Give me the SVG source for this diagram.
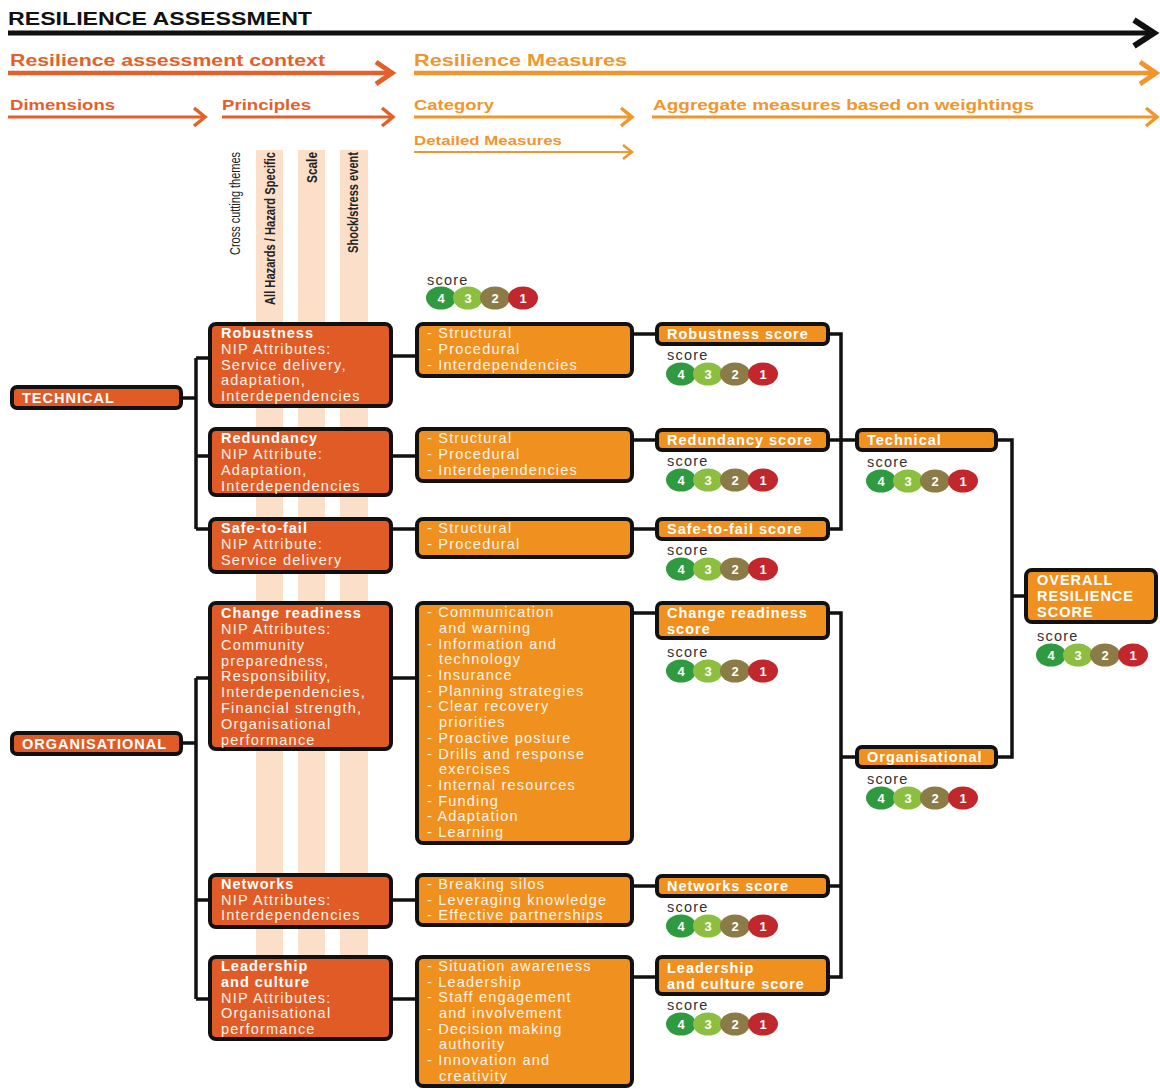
<svg xmlns="http://www.w3.org/2000/svg" xmlns:xlink="http://www.w3.org/1999/xlink" width="1160" height="1089" viewBox="0 0 1160 1089">
<style>
.hd{font-family:"Liberation Sans",Arial,sans-serif;font-weight:bold}
.red{fill:#E4602A}
.org{fill:#F0962C}
.pr{fill:#E15B26;stroke:#111;stroke-width:4}
.ms{fill:#F0901F;stroke:#111;stroke-width:4}
.t{font-family:"Liberation Sans",Arial,sans-serif;font-size:14.5px;letter-spacing:1.2px;fill:#FFF4EA}
.b{font-weight:bold;letter-spacing:1px;fill:#fff}
.conn{stroke:#111;stroke-width:3.5;fill:none}
.sc{font-family:"Liberation Sans",Arial,sans-serif;font-size:14.5px;letter-spacing:1.2px;fill:#333}
.bn{font-family:"Liberation Sans",Arial,sans-serif;font-size:13px;font-weight:bold;fill:#fff;text-anchor:middle}
.vt{font-family:"Liberation Sans",Arial,sans-serif;font-size:14px;fill:#222}
.stripe{fill:#FCDFC8}
</style>
<defs>
<g id="badge">
<ellipse cx="15" cy="0" rx="15" ry="11.5" fill="#2F9A3F"/>
<ellipse cx="42" cy="0" rx="15" ry="11.5" fill="#8CBF40"/>
<ellipse cx="69" cy="0" rx="15" ry="11.5" fill="#8B7B47"/>
<ellipse cx="97" cy="0" rx="15" ry="11.5" fill="#C1272D"/>
<text class="bn" x="15" y="4.5">4</text>
<text class="bn" x="42" y="4.5">3</text>
<text class="bn" x="69" y="4.5">2</text>
<text class="bn" x="97" y="4.5">1</text>
</g>
</defs>
<rect width="1160" height="1089" fill="#fff"/>

<g id="header">
<text class="hd" x="8" y="25" font-size="19" fill="#111" textLength="304" lengthAdjust="spacingAndGlyphs">RESILIENCE ASSESSMENT</text>
<line x1="8" y1="33" x2="1152" y2="33" stroke="#111" stroke-width="5"/>
<polyline points="1134,20 1154,33 1134,46" fill="none" stroke="#111" stroke-width="6"/>
<text class="hd red" x="10" y="66" font-size="16.5" textLength="315" lengthAdjust="spacingAndGlyphs">Resilience assessment context</text>
<line x1="8" y1="73" x2="390" y2="73" stroke="#E4602A" stroke-width="4.5"/>
<polyline points="376,62 392,73 376,84" fill="none" stroke="#E4602A" stroke-width="5"/>
<text class="hd org" x="414" y="66" font-size="16.5" textLength="213" lengthAdjust="spacingAndGlyphs">Resilience Measures</text>
<line x1="414" y1="73" x2="1154" y2="73" stroke="#F0962C" stroke-width="4.5"/>
<polyline points="1140,62 1156,73 1140,84" fill="none" stroke="#F0962C" stroke-width="5"/>
<text class="hd red" x="10" y="110" font-size="15.5" textLength="105" lengthAdjust="spacingAndGlyphs">Dimensions</text>
<line x1="8" y1="117" x2="203" y2="117" stroke="#E4602A" stroke-width="3"/>
<polyline points="194,108 205,117 194,126" fill="none" stroke="#E4602A" stroke-width="3.5"/>
<text class="hd red" x="222" y="110" font-size="15.5" textLength="89" lengthAdjust="spacingAndGlyphs">Principles</text>
<line x1="222" y1="117" x2="391" y2="117" stroke="#E4602A" stroke-width="3"/>
<polyline points="382,108 393,117 382,126" fill="none" stroke="#E4602A" stroke-width="3.5"/>
<text class="hd org" x="414" y="110" font-size="15.5" textLength="80" lengthAdjust="spacingAndGlyphs">Category</text>
<line x1="414" y1="117" x2="630" y2="117" stroke="#F0962C" stroke-width="3"/>
<polyline points="621,108 632,117 621,126" fill="none" stroke="#F0962C" stroke-width="3.5"/>
<text class="hd org" x="653" y="110" font-size="15.5" textLength="381" lengthAdjust="spacingAndGlyphs">Aggregate measures based on weightings</text>
<line x1="652" y1="117" x2="1155" y2="117" stroke="#F0962C" stroke-width="3"/>
<polyline points="1146,108 1157,117 1146,126" fill="none" stroke="#F0962C" stroke-width="3.5"/>
<text class="hd org" x="414" y="145" font-size="13.5" textLength="148" lengthAdjust="spacingAndGlyphs">Detailed Measures</text>
<line x1="414" y1="152" x2="631" y2="152" stroke="#F0962C" stroke-width="2"/>
<polyline points="623,145 632,152 623,159" fill="none" stroke="#F0962C" stroke-width="2.5"/>
</g>

<g id="cross-cutting-themes">
<rect class="stripe" x="256" y="150" width="27" height="805"/>
<rect class="stripe" x="298" y="150" width="27" height="805"/>
<rect class="stripe" x="340" y="150" width="28" height="805"/>
<text class="vt" transform="translate(240,255) rotate(-90)" textLength="103" lengthAdjust="spacingAndGlyphs">Cross cutting themes</text>
<text class="vt" font-weight="bold" font-size="13" transform="translate(275,305) rotate(-90)" textLength="153" lengthAdjust="spacingAndGlyphs">All Hazards / Hazard Specific</text>
<text class="vt" font-weight="bold" font-size="13" transform="translate(317,183) rotate(-90)" textLength="31" lengthAdjust="spacingAndGlyphs">Scale</text>
<text class="vt" font-weight="bold" font-size="13" transform="translate(358,253) rotate(-90)" textLength="101" lengthAdjust="spacingAndGlyphs">Shock/stress event</text>
</g>

<g id="connectors">
<path class="conn" d="M183,398 H196 M196,358 V529 M196,358 H208 M196,456 H208 M196,529 H208"/>
<path class="conn" d="M393,356 H415 M393,456 H415 M393,529 H415"/>
<path class="conn" d="M634,334 H655 M634,440 H655 M634,529 H655"/>
<path class="conn" d="M830,334 H841 V529 H830 M830,440 H855"/>
<path class="conn" d="M998,440 H1012 V757 H998 M1012,596 H1024"/>
<path class="conn" d="M183,743 H196 M196,678 V999 M196,678 H208 M196,900 H208 M196,999 H208"/>
<path class="conn" d="M393,678 H415 M393,900 H415 M393,999 H415"/>
<path class="conn" d="M634,613 H655 M634,886 H655 M634,977 H655"/>
<path class="conn" d="M830,613 H841 V977 H830 M830,886 H841 M841,757 H855"/>
</g>

<g id="score-legend">
<text class="sc" x="427" y="285">score</text>
<use xlink:href="#badge" x="426" y="298"/>
</g>

<g id="technical">
<rect class="pr" x="12" y="387" width="169" height="21" rx="5"/>
<text class="t b" x="22" y="403">TECHNICAL</text>
</g>
<g id="organisational">
<rect class="pr" x="12" y="733" width="169" height="21" rx="5"/>
<text class="t b" x="22" y="749">ORGANISATIONAL</text>
</g>

<g id="robustness">
<rect class="pr" x="210" y="324" width="181" height="82" rx="6"/>
<text class="t b" x="221" y="338">Robustness</text>
<text class="t" x="221" y="354">NIP Attributes:</text>
<text class="t" x="221" y="370">Service delivery,</text>
<text class="t" x="221" y="385">adaptation,</text>
<text class="t" x="221" y="401">Interdependencies</text>
</g>
<g id="redundancy">
<rect class="pr" x="210" y="429" width="181" height="66" rx="6"/>
<text class="t b" x="221" y="443">Redundancy</text>
<text class="t" x="221" y="459">NIP Attribute:</text>
<text class="t" x="221" y="475">Adaptation,</text>
<text class="t" x="221" y="491">Interdependencies</text>
</g>
<g id="safe-to-fail">
<rect class="pr" x="210" y="519" width="181" height="53" rx="6"/>
<text class="t b" x="221" y="533">Safe-to-fail</text>
<text class="t" x="221" y="549">NIP Attribute:</text>
<text class="t" x="221" y="565">Service delivery</text>
</g>
<g id="change-readiness">
<rect class="pr" x="210" y="603" width="181" height="146" rx="6"/>
<text class="t b" x="221" y="618">Change readiness</text>
<text class="t" x="221" y="634">NIP Attributes:</text>
<text class="t" x="221" y="650">Community</text>
<text class="t" x="221" y="666">preparedness,</text>
<text class="t" x="221" y="681">Responsibility,</text>
<text class="t" x="221" y="697">Interdependencies,</text>
<text class="t" x="221" y="713">Financial strength,</text>
<text class="t" x="221" y="729">Organisational</text>
<text class="t" x="221" y="745">performance</text>
</g>
<g id="networks">
<rect class="pr" x="210" y="875" width="181" height="52" rx="6"/>
<text class="t b" x="221" y="889">Networks</text>
<text class="t" x="221" y="905">NIP Attributes:</text>
<text class="t" x="221" y="920">Interdependencies</text>
</g>
<g id="leadership">
<rect class="pr" x="210" y="957" width="181" height="82" rx="6"/>
<text class="t b" x="221" y="971">Leadership</text>
<text class="t b" x="221" y="987">and culture</text>
<text class="t" x="221" y="1003">NIP Attributes:</text>
<text class="t" x="221" y="1018">Organisational</text>
<text class="t" x="221" y="1034">performance</text>
</g>

<g id="robustness-measures">
<rect class="ms" x="417" y="324" width="215" height="52" rx="6"/>
<text class="t" x="427" y="338">- Structural</text>
<text class="t" x="427" y="354">- Procedural</text>
<text class="t" x="427" y="370">- Interdependencies</text>
</g>
<g id="redundancy-measures">
<rect class="ms" x="417" y="429" width="215" height="52" rx="6"/>
<text class="t" x="427" y="443">- Structural</text>
<text class="t" x="427" y="459">- Procedural</text>
<text class="t" x="427" y="475">- Interdependencies</text>
</g>
<g id="safe-to-fail-measures">
<rect class="ms" x="417" y="519" width="215" height="38" rx="6"/>
<text class="t" x="427" y="533">- Structural</text>
<text class="t" x="427" y="549">- Procedural</text>
</g>
<g id="change-readiness-measures">
<rect class="ms" x="417" y="603" width="215" height="240" rx="6"/>
<text class="t" x="427" y="617">- Communication</text>
<text class="t" x="439" y="633">and warning</text>
<text class="t" x="427" y="649">- Information and</text>
<text class="t" x="439" y="664">technology</text>
<text class="t" x="427" y="680">- Insurance</text>
<text class="t" x="427" y="696">- Planning strategies</text>
<text class="t" x="427" y="711">- Clear recovery</text>
<text class="t" x="439" y="727">priorities</text>
<text class="t" x="427" y="743">- Proactive posture</text>
<text class="t" x="427" y="759">- Drills and response</text>
<text class="t" x="439" y="774">exercises</text>
<text class="t" x="427" y="790">- Internal resources</text>
<text class="t" x="427" y="806">- Funding</text>
<text class="t" x="427" y="821">- Adaptation</text>
<text class="t" x="427" y="837">- Learning</text>
</g>
<g id="networks-measures">
<rect class="ms" x="417" y="875" width="215" height="50" rx="6"/>
<text class="t" x="427" y="889">- Breaking silos</text>
<text class="t" x="427" y="905">- Leveraging knowledge</text>
<text class="t" x="427" y="920">- Effective partnerships</text>
</g>
<g id="leadership-measures">
<rect class="ms" x="417" y="957" width="215" height="129" rx="6"/>
<text class="t" x="427" y="971">- Situation awareness</text>
<text class="t" x="427" y="987">- Leadership</text>
<text class="t" x="427" y="1002">- Staff engagement</text>
<text class="t" x="439" y="1018">and involvement</text>
<text class="t" x="427" y="1034">- Decision making</text>
<text class="t" x="439" y="1049">authority</text>
<text class="t" x="427" y="1065">- Innovation and</text>
<text class="t" x="439" y="1081">creativity</text>
</g>

<g id="robustness-score">
<rect class="ms" x="657" y="324" width="171" height="20" rx="5"/>
<text class="t b" x="667" y="339">Robustness score</text>
<text class="sc" x="667" y="360">score</text>
<use xlink:href="#badge" x="666" y="374"/>
</g>
<g id="redundancy-score">
<rect class="ms" x="657" y="430" width="171" height="20" rx="5"/>
<text class="t b" x="667" y="445">Redundancy score</text>
<text class="sc" x="667" y="466">score</text>
<use xlink:href="#badge" x="666" y="480"/>
</g>
<g id="safe-to-fail-score">
<rect class="ms" x="657" y="519" width="171" height="20" rx="5"/>
<text class="t b" x="667" y="534">Safe-to-fail score</text>
<text class="sc" x="667" y="555">score</text>
<use xlink:href="#badge" x="666" y="569"/>
</g>
<g id="change-readiness-score">
<rect class="ms" x="657" y="603" width="171" height="35" rx="5"/>
<text class="t b" x="667" y="618">Change readiness</text>
<text class="t b" x="667" y="634">score</text>
<text class="sc" x="667" y="657">score</text>
<use xlink:href="#badge" x="666" y="671"/>
</g>
<g id="networks-score">
<rect class="ms" x="657" y="876" width="171" height="20" rx="5"/>
<text class="t b" x="667" y="891">Networks score</text>
<text class="sc" x="667" y="912">score</text>
<use xlink:href="#badge" x="666" y="926"/>
</g>
<g id="leadership-score">
<rect class="ms" x="657" y="957" width="171" height="37" rx="5"/>
<text class="t b" x="667" y="973">Leadership</text>
<text class="t b" x="667" y="989">and culture score</text>
<text class="sc" x="667" y="1010">score</text>
<use xlink:href="#badge" x="666" y="1024"/>
</g>

<g id="technical-score">
<rect class="ms" x="857" y="430" width="139" height="20" rx="5"/>
<text class="t b" x="867" y="445">Technical</text>
<text class="sc" x="867" y="467">score</text>
<use xlink:href="#badge" x="866" y="481"/>
</g>
<g id="organisational-score">
<rect class="ms" x="857" y="747" width="139" height="20" rx="5"/>
<text class="t b" x="867" y="762">Organisational</text>
<text class="sc" x="867" y="784">score</text>
<use xlink:href="#badge" x="866" y="798"/>
</g>
<g id="overall-score">
<rect class="ms" x="1026" y="570" width="130" height="52" rx="6"/>
<text class="t b" x="1037" y="585">OVERALL</text>
<text class="t b" x="1037" y="601">RESILIENCE</text>
<text class="t b" x="1037" y="617">SCORE</text>
<text class="sc" x="1037" y="641">score</text>
<use xlink:href="#badge" x="1036" y="655"/>
</g>
</svg>
